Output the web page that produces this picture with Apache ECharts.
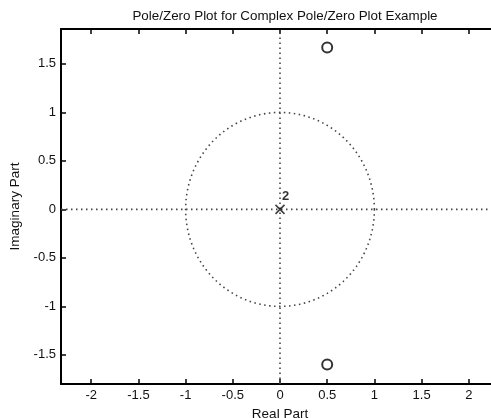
<!DOCTYPE html>
<html><head><meta charset="utf-8">
<script src="https://cdn.jsdelivr.net/npm/echarts@6/dist/echarts.min.js"></script>
<style>html,body{margin:0;padding:0;background:#fff}#c{width:491px;height:418px}</style>
</head><body><div id="c"></div>
<script>
const titleText = 'Pole/Zero Plot for Complex Pole/Zero Plot Example';
const xTicks = [-2, -1.5, -1, -0.5, 0, 0.5, 1, 1.5, 2];
const yTicks = [-1.5, -1, -0.5, 0, 0.5, 1, 1.5];
const xRange = [-2.32, 2.32];
const yRange = [-1.8, 1.86];
const poles = [[0, 0]];
const poleMultiplicity = ['2'];
const zeros = [[0.5, 1.67], [0.5, -1.6]];
const unitRadius = 1;

const chart = echarts.init(document.getElementById('c'), null, {renderer: 'canvas'});
const font = 'Liberation Sans, Arial, sans-serif';
const tickStyle = {show: true, inside: true, length: 5, lineStyle: {color: '#000', width: 1.5}};
chart.setOption({
  animation: false,
  title: {text: titleText, left: 280, textAlign: 'center', top: 5,
    textStyle: {fontFamily: font, fontSize: 13.4, fontWeight: 'normal', color: '#111'}},
  grid: {left: 61, top: 29, width: 438, height: 355, containLabel: false, outerBoundsMode: 'none'},
  xAxis: [{
    type: 'value', min: xRange[0], max: xRange[1], position: 'bottom',
    name: 'Real Part', nameLocation: 'middle', nameGap: 23,
    nameTextStyle: {fontFamily: font, fontSize: 13.5, color: '#111'},
    axisLine: {show: true, onZero: false, lineStyle: {color: '#000', width: 2}},
    axisTick: Object.assign({customValues: xTicks}, tickStyle),
    axisLabel: {customValues: xTicks, margin: 5, fontFamily: font, fontSize: 13, color: '#111'},
    splitLine: {show: false}
  }, {
    type: 'value', min: xRange[0], max: xRange[1], position: 'top',
    axisLine: {show: true, onZero: false, lineStyle: {color: '#000', width: 2}},
    axisTick: Object.assign({customValues: xTicks}, tickStyle),
    axisLabel: {show: false}, splitLine: {show: false}
  }],
  yAxis: [{
    type: 'value', min: yRange[0], max: yRange[1], position: 'left',
    name: 'Imaginary Part', nameLocation: 'middle', nameGap: 33, nameRotate: 90,
    nameTextStyle: {fontFamily: font, fontSize: 13.5, color: '#111'},
    axisLine: {show: true, onZero: false, lineStyle: {color: '#000', width: 2}},
    axisTick: Object.assign({customValues: yTicks}, tickStyle),
    axisLabel: {customValues: yTicks, margin: 5, fontFamily: font, fontSize: 13, color: '#111'},
    splitLine: {show: false}
  }, {
    type: 'value', min: yRange[0], max: yRange[1], position: 'right',
    axisLine: {show: true, onZero: false, lineStyle: {color: '#000', width: 2}},
    axisTick: Object.assign({customValues: yTicks}, tickStyle),
    axisLabel: {show: false}, splitLine: {show: false}
  }],
  series: [{
    type: 'custom', xAxisIndex: 0, yAxisIndex: 0, silent: true,
    data: [[0, 0, unitRadius]],
    renderItem: function (params, api) {
      const r = api.value(2);
      const pts = [];
      for (let i = 0; i <= 180; i++) {
        const a = i / 180 * 2 * Math.PI;
        pts.push(api.coord([r * Math.cos(a), r * Math.sin(a)]));
      }
      const x0 = api.coord([xRange[0], 0]), x1 = api.coord([xRange[1], 0]);
      const y0 = api.coord([0, yRange[0]]), y1 = api.coord([0, yRange[1]]);
      const ls = {stroke: '#444', lineWidth: 1.6, lineDash: [1.5, 3.5], fill: null};
      return {type: 'group', children: [
        {type: 'polyline', shape: {points: pts}, style: ls},
        {type: 'line', shape: {x1: x0[0], y1: x0[1], x2: x1[0], y2: x1[1]}, style: ls},
        {type: 'line', shape: {x1: y0[0], y1: y0[1], x2: y1[0], y2: y1[1]}, style: ls}
      ]};
    }
  }, {
    type: 'scatter', data: zeros, symbol: 'circle', symbolSize: 10,
    itemStyle: {color: '#fff', borderColor: '#000', borderWidth: 2}, silent: true
  }, {
    type: 'scatter', data: poles.map((p, i) => ({value: p, label: {show: true, formatter: poleMultiplicity[i]}})),
    symbol: 'path://M0,0 L10,10 M10,0 L0,10', symbolSize: 9,
    itemStyle: {color: 'none', borderColor: '#111', borderWidth: 1.6},
    label: {position: [9, -12], fontFamily: font, fontSize: 13, fontWeight: 'bold', color: '#000'},
    silent: true
  }]
});
</script></body></html>
